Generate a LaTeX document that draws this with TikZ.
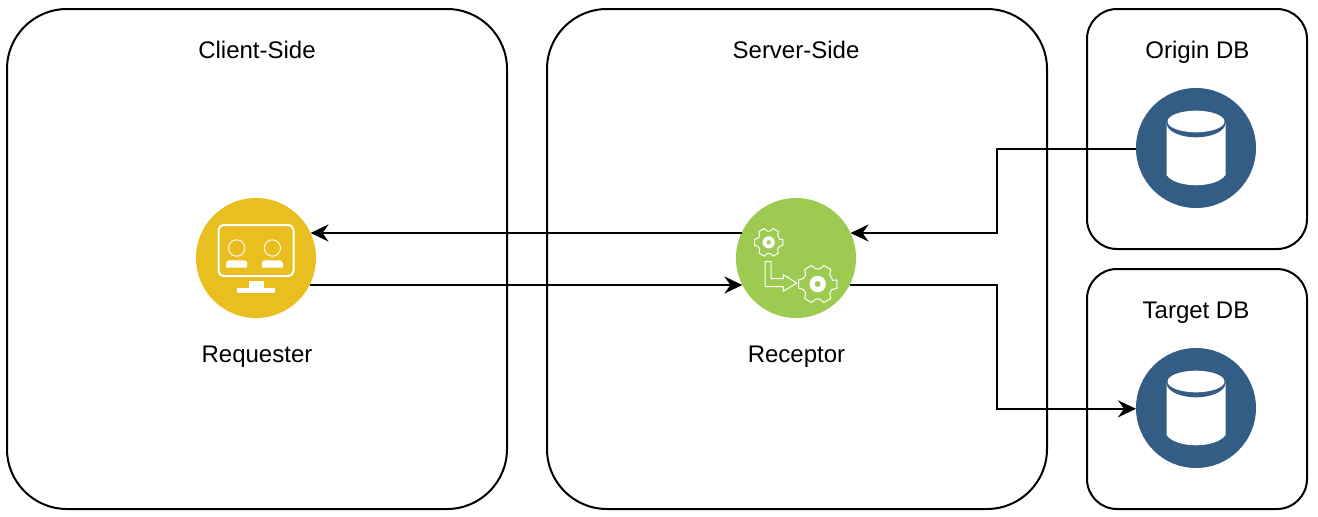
\documentclass[tikz,border=0pt]{standalone}
\usepackage{fontspec}
\setmainfont{Liberation Sans}
\usetikzlibrary{calc,positioning}
\usetikzlibrary{arrows.meta}
\tikzset{>={Stealth[width=17pt,length=18pt,inset=6pt]}}
\definecolor{reqyellow}{HTML}{E9BE1F}
\definecolor{recgreen}{HTML}{9DCB52}
\definecolor{dbblue}{HTML}{335D85}

% teeth of a gear, #1 = centre, #2 = outer radius
\newcommand{\gearicon}[2]{
  \draw[white, line width=1pt, line join=round, fill=recgreen]
    ($(#1)+(-14:0.78*#2)$)
    \foreach \a in {0,60,...,300} {
      -- ($(#1)+(\a-12:#2)$) -- ($(#1)+(\a+12:#2)$) -- ($(#1)+(\a+22:0.78*#2)$) -- ($(#1)+(\a+38:0.78*#2)$)
    } -- cycle;
  \fill[white] (#1) circle[radius=0.42*#2];
  \fill[recgreen] (#1) circle[radius=0.15*#2];
}

% cylinder, #1 = centre of the blue disc
\newcommand{\dbicon}[1]{
  \fill[white] ($(#1)+(-29.5,-25)$) -- ($(#1)+(-29.5,27)$)
    .. controls ($(#1)+(-20,40.7)$) and ($(#1)+(20,40.7)$) .. ($(#1)+(29.5,27)$)
    -- ($(#1)+(29.5,-25)$) -- cycle;
  \fill[dbblue] ($(#1)+(0,-25)$) ellipse[x radius=29.5, y radius=14.3];
  \fill[white] ($(#1)+(0,-26.5)$) ellipse[x radius=28.5, y radius=10.8];
}

\begin{document}
\begin{tikzpicture}[x=1pt, y=-1pt]
  \tikzstyle{zone} = [draw, line width=2pt, outer sep=0pt, rounded corners=#1]
  \tikzstyle{actor} = [circle, inner sep=0pt, outer sep=0pt, minimum size=120pt]
  \tikzstyle{caption} = [font=\fontsize{24pt}{28pt}\selectfont, inner sep=0pt, anchor=base]
  \tikzstyle{flow} = [->, line width=2pt]
  \useasboundingbox (0,0) rectangle (1318,517);

  % zones
  \node[zone=60pt, minimum width=500pt, minimum height=500pt] (clientzone) at (257,259) {};
  \node[zone=60pt, minimum width=500pt, minimum height=500pt] (serverzone) at (797,259) {};
  \node[zone=30pt, minimum width=220pt, minimum height=240pt] (originzone) at (1197,129) {};
  \node[zone=30pt, minimum width=220pt, minimum height=240pt] (targetzone) at (1197,389) {};

  \node[caption] (clienttitle) at (257,58) {Client-Side};
  \node[caption] (servertitle) at (796,58) {Server-Side};
  \node[caption] (origintitle) at (1197.5,58) {Origin DB};
  \node[caption] (targettitle) at (1196,318) {Target DB};

  % actors
  \node[actor, fill=reqyellow] (requester) at (256,258) {};
  \node[actor, fill=recgreen] (receptor) at (796,258) {};
  \node[actor, fill=dbblue] (origindb) at (1196,148) {};
  \node[actor, fill=dbblue] (targetdb) at (1196,408) {};

  \node[caption] (requesterlabel) at (257,362) {Requester};
  \node[caption] (receptorlabel) at (796.5,362) {Receptor};

  % requester icon
  \draw[white, line width=2pt, rounded corners=5pt] (218.5,225) rectangle (293.5,276);
  \fill[white] (248.5,280.5) rectangle (263.5,288);
  \fill[white] (237,288) rectangle (274.5,292.5);
  \foreach \hx in {236.7,272.3} {
    \draw[white, line width=0.9pt] (\hx,248) circle[radius=8.2];
    \fill[white] (\hx-10.5,267.7) [rounded corners=3pt] -- (\hx-10.5,260.3) -- (\hx+10.5,260.3) [sharp corners] -- (\hx+10.5,267.7) -- cycle;
  }

  % receptor icon
  \gearicon{768.7,242.3}{14.5}
  \gearicon{817.7,284}{19.5}
  \draw[white, line width=1pt, line join=round]
    (765,261.5) -- (771,261.5) -- (771,278.7) -- (783.3,278.7) -- (783.3,274.7)
    -- (796.7,283) -- (783.3,291.3) -- (783.3,286.7) -- (765,286.7) -- cycle;

  % db icons
  \dbicon{1196,148}
  \dbicon{1196,408}

  % connectors
  \coordinate (originout) at ($(origindb.west)+(0,0.8)$);
  \coordinate (targetin) at ($(targetdb.west)+(0,0.8)$);
  \coordinate (originbend) at (997,148.8);
  \coordinate (originturn) at (997,233);
  \coordinate (targetbend) at (997,285);
  \coordinate (targetturn) at (997,408.8);
  \coordinate (reqin) at ($(requester)+(54.5,-25)$);
  \coordinate (reqout) at ($(requester)+(53.6,27)$);
  \coordinate (recin) at ($(receptor)+(-53.6,27)$);
  \coordinate (recout) at ($(receptor)+(-54.5,-25)$);
  \coordinate (recback) at ($(receptor)+(54.5,-25)$);
  \coordinate (recfwd) at ($(receptor)+(53.6,27)$);

  \draw[flow] (recout) to (reqin);
  \draw[flow] (reqout) to (recin);
  \draw[flow] (originout) -- (originbend) -- (originturn) -- (recback);
  \draw[flow] (recfwd) -- (targetbend) -- (targetturn) -- (targetin);
\end{tikzpicture}
\end{document}
